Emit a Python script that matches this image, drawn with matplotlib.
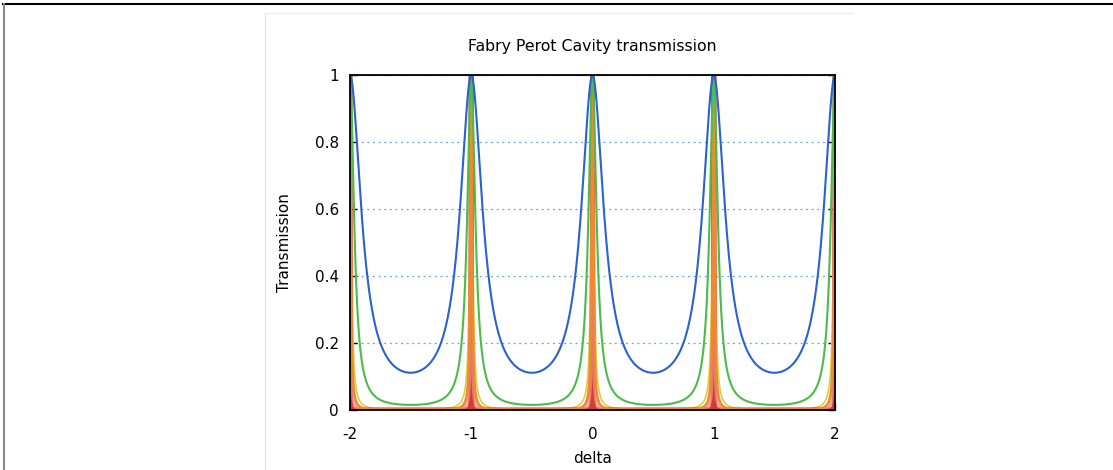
"""
Fabry Perot cavity transmission (Airy function) for several mirror reflectivities
"""

import numpy as np
import matplotlib.pyplot as plt
from matplotlib.lines import Line2D

reflectivity = [0.92, 0.995, 0.97, 0.95, 0.78, 0.5, 0.0]
curve_colors = ['#d8d048', '#d23c34', '#ee8a84', '#f08a30', '#4cbb4c', '#2a62d0', '#d8403a']
curve_widths = [1.2, 3.6, 2.4, 1.8, 1.5, 1.5, 1.5]
curve_alpha = [1.0, 1.0, 0.75, 1.0, 1.0, 1.0, 1.0]

delta_range = [-2, 2]
x_ticks = [-2, -1, 0, 1, 2]
x_tick_labels = ['-2', '-1', '0', '1', '2']
y_ticks = [0, 0.2, 0.4, 0.6, 0.8, 1]
y_tick_labels = ['0', '0.2', '0.4', '0.6', '0.8', '1']

delta = np.linspace(delta_range[0], delta_range[1], 8001)

fig = plt.figure(figsize=(11.13, 4.70), dpi=100)

# outer screenshot frame: top and left edge only
fig.add_artist(Line2D([0.003, 1.0], [1 - 4 / 470, 1 - 4 / 470], color='black', lw=1.5))
fig.add_artist(Line2D([3.5 / 1113, 3.5 / 1113], [0, 1 - 4 / 470], color='#888888', lw=1.5))
# faint edge of the pasted inner screenshot
fig.add_artist(Line2D([265 / 1113, 265 / 1113], [0, 1 - 13 / 470], color='#e4e4e4', lw=1.0))
fig.add_artist(Line2D([265 / 1113, 853 / 1113], [1 - 13 / 470, 1 - 13 / 470], color='#f2ecea', lw=1.0))

ax = fig.add_axes([350 / 1113, 1 - 410 / 470, (835 - 350) / 1113, (410 - 75) / 470])

for r, c, w, a in zip(reflectivity, curve_colors, curve_widths, curve_alpha):
    coef = 4 * r / (1 - r) ** 2
    trans = 1 / (1 + coef * np.sin(np.pi * delta) ** 2)
    ax.plot(delta, trans, color=c, lw=w, alpha=a, solid_joinstyle='round')

ax.set_xlim(delta_range)
ax.set_ylim(0, 1)
ax.set_xticks(x_ticks)
ax.set_xticklabels(x_tick_labels)
ax.set_yticks(y_ticks)
ax.set_yticklabels(y_tick_labels)
ax.tick_params(direction='in', length=5, width=1, labelsize=11, right=True, top=False,
               colors='black')
ax.tick_params(axis='x', pad=12)
ax.tick_params(axis='y', pad=8)
ax.grid(True, color='#5aa8d8', linestyle=(0, (1.5, 3)), linewidth=0.9)
ax.set_axisbelow(True)
for s in ax.spines.values():
    s.set_linewidth(1.3)
    s.set_color('black')

ax.set_title('Fabry Perot Cavity transmission', fontsize=11.3, pad=17)
ax.set_xlabel('delta', fontsize=11, labelpad=7)
ax.set_ylabel('Transmission', fontsize=11, labelpad=16)

fig.savefig('out.png', dpi=100)
